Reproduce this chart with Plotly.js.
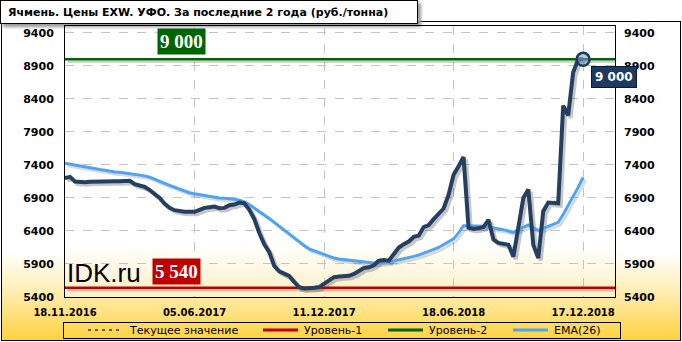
<!DOCTYPE html>
<html><head><meta charset="utf-8">
<script src="https://cdn.plot.ly/plotly-3.0.1.min.js"></script>
<style>
html,body{margin:0;padding:0;background:#fff;}
#wrap{position:relative;width:682px;height:342px;overflow:hidden;background:#fff;}
#frame{position:absolute;left:1px;top:21px;width:678px;height:318px;border:1px solid #000;
 background:linear-gradient(to bottom,#fff 0%,#fff 72%,#FFEFB8 84%,#FFD23F 100%);}
#plotbg{position:absolute;left:65px;top:26px;width:550px;height:271px;
 background:linear-gradient(to bottom,#fff 0%,#fff 80%,#FDF0C4 100%);}
#titlebox{position:absolute;left:0;top:0;width:416px;height:22px;border:1px solid #000;background:#fff;box-shadow:3px 3px 3px #999;}
#legbox{position:absolute;left:63px;top:322px;width:556px;height:15px;border:1px solid #000;}
#chart{position:absolute;left:0;top:0;width:682px;height:342px;}
</style></head>
<body>
<div id="wrap">
 <div id="frame"></div>
 <div id="plotbg"></div>
 <div id="titlebox"></div>
 <div id="legbox"></div>
 <div id="chart"></div>
</div>
<script>
// ---- data ----
const titleText = 'Ячмень. Цены EXW. УФО. За последние 2 года (руб./тонна)';
const tickLabels = ['18.11.2016','05.06.2017','11.12.2017','18.06.2018','17.12.2018'];
const tickWeeks = [0, 26, 52, 78, 104];
const price = [
 7200,7220,7150,7140,7140,7145,7150,7150,7155,7155,
 7155,7155,7155,7160,7110,7090,7070,7020,6960,6900,
 6810,6750,6715,6695,6690,6690,6690,6720,6750,6760,
 6770,6745,6750,6790,6800,6830,6820,6720,6580,6370,
 6200,6080,5870,5790,5760,5720,5630,5550,5530,5530,
 5540,5550,5600,5660,5700,5710,5720,5720,5750,5800,
 5840,5850,5880,5950,5960,5950,6040,6150,6200,6240,
 6310,6330,6460,6490,6580,6670,6740,6950,7250,7380,
 7520,6450,6430,6440,6460,6570,6270,6220,6200,6190,
 6010,6450,6900,7030,6190,5990,6700,6830,6820,6820,
 8300,8150,8800,9000,9000];
const ema = [
 7425,7410,7395,7380,7365,7355,7345,7330,7320,7305,
 7295,7290,7280,7270,7260,7245,7235,7215,7180,7150,
 7120,7090,7060,7030,7000,6980,6965,6950,6935,6920,
 6910,6900,6895,6890,6880,6865,6840,6800,6750,6700,
 6650,6590,6530,6470,6410,6350,6290,6230,6180,6130,
 6100,6070,6040,6010,5990,5975,5965,5955,5945,5935,
 5925,5920,5915,5915,5920,5930,5945,5960,5975,5995,
 6015,6035,6060,6090,6120,6150,6190,6230,6280,6370,
 6480,6480,6480,6480,6470,6460,6450,6440,6420,6400,
 6380,6420,6460,6490,6450,6410,6440,6470,6500,6530,
 6650,6780,6920,7060,7210];
const level1 = 5540;
const level2 = 9000;
const seriesNames = ['Текущее значение','Уровень-1','Уровень-2','EMA(26)'];
const siteLabel = 'IDK.ru';

// ---- derived ----
const weeks = price.map((_, i) => i);
const lastIdx = weeks[weeks.length - 1];
const current = price[price.length - 1];
const xMax = 110.4;
const yr = [5400, 9505];
const fmt = v => String(v).replace(/\B(?=(\d{3})+(?!\d))/g, ' ');

// pixel -> paper helpers (plot area: x 65..615, y 26..297)
const PL = 65, PW = 550, PB = 297, PH = 271;
const px = v => (v - PL) / PW;
const py = v => (PB - v) / PH;
// shadow axes: shifted by a few pixels (down-right)
const sh = 2.5;
const dx = sh * xMax / PW, dy = sh * (yr[1] - yr[0]) / PH;

const navy = '#243F60';
const colors = [navy, '#C00000', '#006400', '#4DA3F5'];
const S = {xaxis:'x2', yaxis:'y3', hoverinfo:'skip'};
const M = {xaxis:'x3', yaxis:'y4'};
const traces = [
 // keeps the base axes (left + bottom) drawn
 {x:[0], y:[yr[0]], mode:'markers', marker:{opacity:0}, hoverinfo:'skip'},
 // shadows
 Object.assign({x:[0,xMax], y:[level1,level1], mode:'lines', line:{color:'rgba(0,0,0,0.18)', width:2.5}}, S),
 Object.assign({x:[0,xMax], y:[level2,level2], mode:'lines', line:{color:'rgba(0,0,0,0.18)', width:2.5}}, S),
 Object.assign({x:weeks, y:ema, mode:'lines', line:{color:'rgba(0,0,0,0.14)', width:3}}, S),
 Object.assign({x:weeks, y:price, mode:'lines', line:{color:'rgba(0,0,0,0.22)', width:4}}, S),
 // main marks
 Object.assign({x:[0,xMax], y:[level1,level1], mode:'lines', name:seriesNames[1],
  line:{color:colors[1], width:2.5}}, M),
 Object.assign({x:[0,xMax], y:[level2,level2], mode:'lines', name:seriesNames[2],
  line:{color:colors[2], width:2.5}}, M),
 Object.assign({x:weeks, y:ema, mode:'lines', name:seriesNames[3],
  line:{color:colors[3], width:3}}, M),
 Object.assign({x:weeks, y:price, mode:'lines', name:seriesNames[0],
  line:{color:navy, width:4}}, M),
 Object.assign({x:[lastIdx], y:[current], mode:'markers',
  marker:{size:13, color:'rgba(120,160,200,0.55)', line:{color:'#1F3A5F', width:2.5}}}, M),
 // keeps the right-hand axis drawn
 {x:[0], y:[yr[0]], yaxis:'y2', mode:'markers', marker:{opacity:0}, hoverinfo:'skip'}
];

// legend drawn manually (symbol line + text), positions in pixels
const legSym = [88, 263, 388, 513];
const legY = 330;
const legendShapes = legSym.map((s, i) => ({
  type:'line', xref:'paper', yref:'paper', x0:px(s), x1:px(s + 35), y0:py(legY), y1:py(legY),
  line:{color:colors[i], width: i === 0 ? 1.5 : 3, dash: i === 0 ? '3px,4px' : 'solid'}
}));
const legendTexts = legSym.map((s, i) => ({
  text:seriesNames[i], xref:'paper', yref:'paper', x:px(s + 39), y:py(legY),
  xanchor:'left', yanchor:'middle', showarrow:false,
  font:{family:'DejaVu Sans', size:11, color:'#000'}
}));

const tickFont = {family:'DejaVu Sans', size:11, color:'#000', weight:'bold'};
const layout = {
 width:682, height:342,
 margin:{l:65, r:67, t:26, b:45},
 paper_bgcolor:'rgba(0,0,0,0)', plot_bgcolor:'rgba(0,0,0,0)',
 showlegend:false,
 xaxis:{range:[0,xMax], tickvals:tickWeeks, ticktext:tickLabels,
  showgrid:true, gridcolor:'#C4C4C4', griddash:'dash', gridwidth:1,
  zeroline:false, showline:true, mirror:true, linecolor:'#000', linewidth:1,
  ticks:'', ticklabelstandoff:6, tickfont:{family:'DejaVu Sans', size:10, color:'#000', weight:'bold'}},
 yaxis:{range:yr, tick0:5400, dtick:500, showgrid:true, gridcolor:'#C4C4C4',
  griddash:'dash', zeroline:false, showline:true, mirror:true, linecolor:'#000',
  ticks:'', ticklabelstandoff:8, tickfont:tickFont},
 yaxis2:{range:yr, tick0:5400, dtick:500, overlaying:'y', side:'right',
  showgrid:false, zeroline:false, showline:false, ticks:'', ticklabelstandoff:8,
  tickfont:tickFont},
 xaxis2:{overlaying:'x', range:[-dx, xMax - dx], visible:false},
 yaxis3:{overlaying:'y', range:[yr[0] + dy, yr[1] + dy], visible:false},
 xaxis3:{overlaying:'x', range:[0, xMax], visible:false},
 yaxis4:{overlaying:'y', range:yr, visible:false},
 shapes: legendShapes,
 annotations:[
  {text:titleText, xref:'paper', yref:'paper', x:px(6), xanchor:'left', y:py(12), yanchor:'middle',
   showarrow:false, font:{family:'DejaVu Sans', size:11, color:'#000', weight:'bold'}},
  {text:fmt(level2), xref:'paper', yref:'paper', x:px(181.5), y:py(41.5), xanchor:'center', yanchor:'middle',
   showarrow:false, bgcolor:'#006400', borderpad:2,
   font:{family:'Liberation Serif', size:19, color:'#fff', weight:'bold'}},
  {text:fmt(level1), xref:'paper', yref:'paper', x:px(176.5), y:py(271), xanchor:'center', yanchor:'middle',
   showarrow:false, bgcolor:'#C00000', borderpad:2,
   font:{family:'Liberation Serif', size:19, color:'#fff', weight:'bold'}},
  {text:siteLabel, xref:'paper', yref:'paper', x:0.0, y:py(273), xanchor:'left', yanchor:'middle',
   showarrow:false, font:{family:'Liberation Sans', size:26, color:'#000'}},
  {text:fmt(current), xref:'paper', yref:'paper', x:px(613.5), y:py(77), xanchor:'center', yanchor:'middle',
   showarrow:false, bgcolor:'#1F3A5F', bordercolor:'#0A1A2E', borderwidth:1, borderpad:3,
   font:{family:'DejaVu Sans', size:12, color:'#fff', weight:'bold'}}
 ].concat(legendTexts)
};
Plotly.newPlot('chart', traces, layout, {displayModeBar:false, staticPlot:true});
</script>
</body></html>
